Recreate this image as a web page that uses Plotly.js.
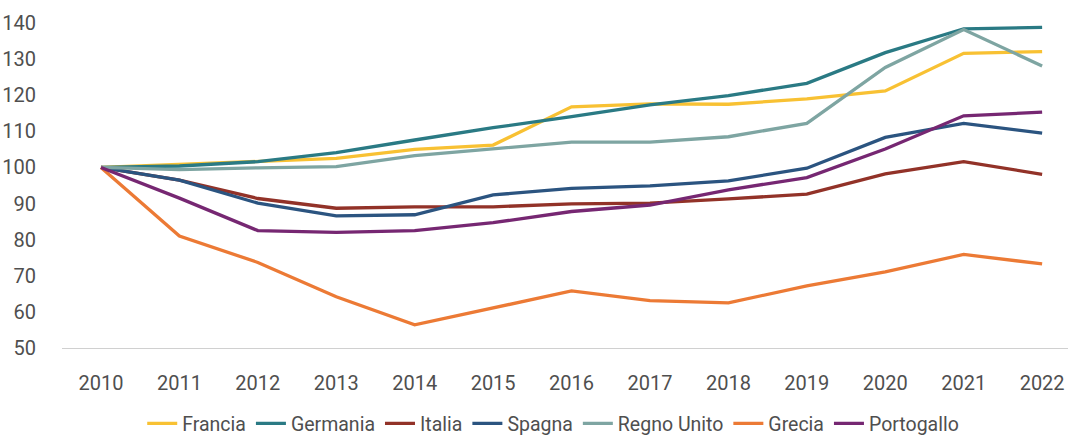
<!DOCTYPE html>
<html>
<head>
<meta charset="utf-8">
<script src="https://cdn.plot.ly/plotly-3.0.1.min.js"></script>
<style>html,body{margin:0;padding:0;background:#fff;}#chart{width:1068px;height:439px;}</style>
</head>
<body>
<div id="chart"></div>
<script>
var years = [2010, 2011, 2012, 2013, 2014, 2015, 2016, 2017, 2018, 2019, 2020, 2021, 2022];
var seriesNames = ["Francia", "Germania", "Italia", "Spagna", "Regno Unito", "Grecia", "Portogallo"];
var francia    = [100, 100.9, 101.8, 102.5, 105.0, 106.2, 116.8, 117.6, 117.5, 119.0, 121.2, 131.6, 132.1];
var germania   = [100, 100.4, 101.6, 104.1, 107.6, 111.0, 114.1, 117.3, 119.9, 123.3, 131.8, 138.4, 138.8];
var italia     = [100, 96.5, 91.4, 88.7, 89.1, 89.1, 89.9, 90.1, 91.3, 92.6, 98.2, 101.6, 98.1];
var spagna     = [100, 96.5, 90.1, 86.6, 86.9, 92.4, 94.2, 94.9, 96.3, 99.8, 108.3, 112.2, 109.5];
var regnoUnito = [100, 99.4, 99.9, 100.2, 103.3, 105.1, 107.0, 107.0, 108.5, 112.2, 127.7, 138.2, 128.1];
var grecia     = [100, 81.0, 73.7, 64.2, 56.4, 61.0, 65.8, 63.1, 62.5, 67.2, 71.1, 75.9, 73.3];
var portogallo = [100, 91.5, 82.5, 82.0, 82.5, 84.7, 87.8, 89.6, 93.8, 97.2, 105.1, 114.3, 115.3];
var yTicks = [50, 60, 70, 80, 90, 100, 110, 120, 130, 140];

var values = [francia, germania, italia, spagna, regnoUnito, grecia, portogallo];
var colors = ["#F8C133", "#2A7A84", "#923228", "#2B5480", "#7EA5A2", "#EC7A35", "#762772"];

var FONT = "Roboto, 'Liberation Sans', sans-serif";
var TEXT = "#4F4F4F";

var traces = values.map(function (v, i) {
  return {
    x: years, y: v, name: seriesNames[i], type: "scatter", mode: "lines",
    line: {color: colors[i], width: 3.3}
  };
});

var layout = {
  width: 1068, height: 439,
  margin: {l: 62, r: 0, t: 23, b: 91},
  paper_bgcolor: "#fff", plot_bgcolor: "#fff",
  font: {family: FONT, color: TEXT, size: 19},
  showlegend: true,
  legend: {
    orientation: "h", xref: "container", x: 0.518, xanchor: "center",
    yref: "container", y: 0.035, yanchor: "middle",
    font: {family: FONT, size: 19.5, color: TEXT},
    itemwidth: 30, traceorder: "normal"
  },
  xaxis: {
    type: "linear", range: [2009.503, 2022.33],
    tickvals: years, ticktext: years.map(String),
    showgrid: false, zeroline: false, showline: true, linecolor: "#D0D0D0", linewidth: 1.3,
    ticks: "", ticklen: 0, ticklabelstandoff: 17,
    tickfont: {family: FONT, size: 20, color: TEXT}
  },
  yaxis: {
    range: [50, 140], tickvals: yTicks,
    showgrid: false, zeroline: false, showline: false,
    ticks: "", ticklen: 0, ticklabelstandoff: 25,
    tickfont: {family: FONT, size: 20, color: TEXT}
  }
};

Plotly.newPlot("chart", traces, layout, {displayModeBar: false, staticPlot: true});
</script>
</body>
</html>
